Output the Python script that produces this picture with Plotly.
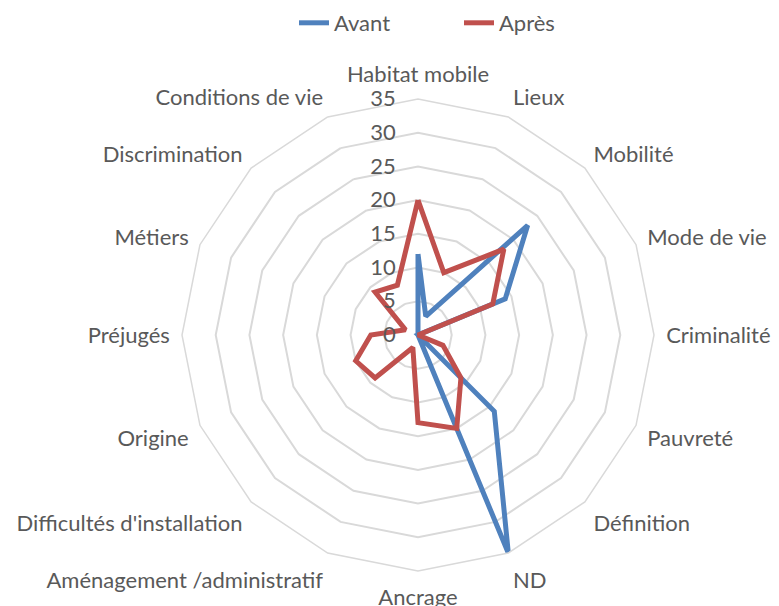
import plotly.graph_objects as go

categories = [
    "Habitat mobile", "Lieux", "Mobilité", "Mode de vie", "Criminalité",
    "Pauvreté", "Définition", "ND", "Ancrage", "Aménagement /administratif",
    "Difficultés d'installation", "Origine", "Préjugés", "Métiers",
    "Discrimination", "Conditions de vie",
]
avant = [12, 3, 23, 14, 0, 0, 16, 35, 0, 0, 0, 0, 0, 0, 0, 0]
apres = [20, 10, 18, 12, 0, 4, 9, 15, 13, 2, 9, 10, 7, 2, 9, 8]
radial_ticks = [0, 5, 10, 15, 20, 25, 30, 35]

BLUE = "#4F81BD"
RED = "#C0504D"
GRID = "#D9D9D9"
TEXT = "#595959"
FONT = "Lato"

# page body has an 8px margin, so the figure is drawn 8px smaller and offset
W, H = 771, 598
CX, CY, R = 410, 327, 236


def closed(values):
    # repeat first point so the polygon closes
    return values + values[:1]


fig = go.Figure()
fig.add_trace(go.Scatterpolar(
    r=closed(avant), theta=closed(categories), name="Avant", mode="lines",
    line=dict(color=BLUE, width=5),
))
fig.add_trace(go.Scatterpolar(
    r=closed(apres), theta=closed(categories), name="Après", mode="lines",
    line=dict(color=RED, width=5),
))

fig.update_layout(
    width=W, height=H,
    margin=dict(l=0, r=0, t=0, b=0, autoexpand=False),
    paper_bgcolor="white",
    font=dict(family=FONT, size=22, color=TEXT),
    showlegend=True,
    legend=dict(orientation="h", x=(294 - 8) / W, xanchor="left",
                y=1 + 6 / H, yanchor="top", entrywidth=120,
                font=dict(size=22, color=TEXT)),
    polar=dict(
        domain=dict(x=[(CX - R) / W, (CX + R) / W],
                    y=[(H - CY - R) / H, (H - CY + R) / H]),
        bgcolor="white",
        gridshape="linear",
        angularaxis=dict(
            direction="clockwise", rotation=90,
            showgrid=False, showline=True, linecolor=GRID, linewidth=1.5,
            ticks="outside", ticklen=7, tickcolor="rgba(0,0,0,0)",
            tickfont=dict(size=22, color=TEXT),
        ),
        radialaxis=dict(
            range=[0, 35], tickvals=radial_ticks, angle=90, tickangle=90,
            showline=False, showgrid=True, gridcolor=GRID, gridwidth=1.5,
            ticks="outside", ticklen=14, tickcolor="rgba(0,0,0,0)",
            side="counterclockwise",
            tickfont=dict(size=22, color=TEXT),
        ),
    ),
)

fig.write_html("out.html")
